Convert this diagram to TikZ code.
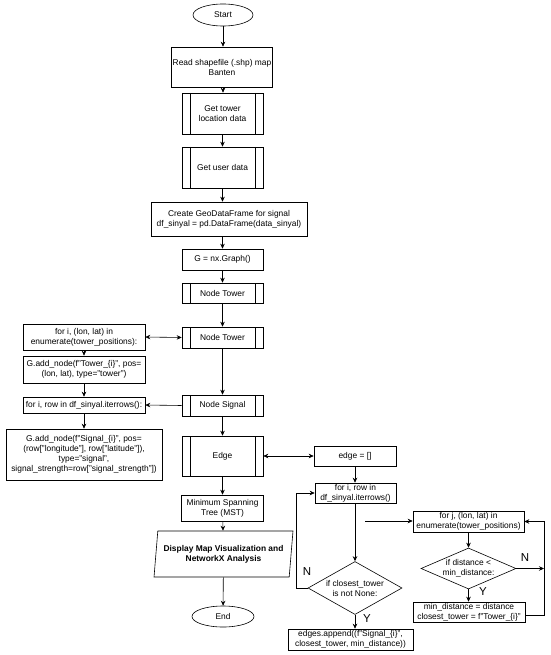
\documentclass[tikz,border=0pt]{standalone}
\usepackage{fontspec}
\setmainfont{Liberation Sans}
\usetikzlibrary{arrows.meta,shapes.geometric}
\tikzset{
  box/.style={draw, rectangle, align=center, font=\fontsize{8.4}{10}\selectfont, inner sep=1pt, fill=white, line width=0.6pt},
  sub/.style={box, path picture={
      \draw[line width=0.6pt] ([xshift=8pt]path picture bounding box.north west) -- ([xshift=8pt]path picture bounding box.south west)
        ([xshift=-8pt]path picture bounding box.north east) -- ([xshift=-8pt]path picture bounding box.south east);}},
  term/.style={draw, ellipse, font=\fontsize{8.4}{10}\selectfont, inner sep=0pt, line width=0.6pt},
  io/.style={draw, trapezium, trapezium left angle=79, trapezium right angle=101, trapezium stretches=true, align=center, font=\fontsize{8.4}{10}\selectfont\bfseries, inner sep=0pt, line width=0.6pt},
  dec/.style={draw, diamond, align=center, font=\fontsize{8.4}{10}\selectfont, inner sep=0pt, line width=0.6pt},
  arr/.style={-{Stealth[length=5pt,width=4.5pt]}, line width=0.6pt},
  darr/.style={{Stealth[length=5pt,width=4.5pt]}-{Stealth[length=5pt,width=4.5pt]}, line width=0.6pt},
  yn/.style={font=\fontsize{11.5}{12}\selectfont, inner sep=0pt},
}
\begin{document}
\begin{tikzpicture}[x=1pt,y=-1pt]
\useasboundingbox (0,0) rectangle (550,655);
\node[term, minimum width=60pt, minimum height=22pt] (start) at (223,15) {Start};
\node[box, minimum width=97pt, minimum height=40pt] (read) at (222,67) {Read shapefile (.shp) map\\Banten};
\node[sub, minimum width=81pt, minimum height=41pt] (tower) at (222.5,113.5) {Get tower\\location data};
\node[sub, minimum width=81pt, minimum height=41pt] (user) at (222.5,167.5) {Get user data};
\node[box, minimum width=156pt, minimum height=34pt] (geo) at (229,219) {Create GeoDataFrame for signal\\df\_sinyal = pd.DataFrame(data\_sinyal)};
\node[box, minimum width=81pt, minimum height=21pt] (graph) at (222.5,259.5) {G = nx.Graph()};
\node[sub, minimum width=81pt, minimum height=20pt] (nt1) at (222.5,293) {Node Tower};
\node[sub, minimum width=81pt, minimum height=21pt] (nt2) at (222.5,337.5) {Node Tower};
\node[sub, minimum width=81pt, minimum height=21pt] (nsig) at (222.5,405.5) {Node Signal};
\node[sub, minimum width=81pt, minimum height=40pt] (edge) at (222.5,456) {Edge};
\node[box, minimum width=82pt, minimum height=26pt] (mst) at (222.5,508) {Minimum Spanning\\Tree (MST)};
\node[io, minimum width=139pt, minimum height=46pt] (disp) at (223.5,554) {Display Map Visualization and\\NetworkX Analysis};
\node[term, minimum width=62pt, minimum height=21pt] (stop) at (223,616.5) {End};
\draw[arr] (start) -- (start.south |- read.north);
\draw[arr] (read.south -| start) -- (start |- tower.north);
\draw[arr] (tower) -- (user);
\draw[arr] (user.south) -- (user.south |- geo.north);
\draw[arr] (geo.south -| graph) -- (graph.north);
\draw[arr] (graph) -- (nt1);
\draw[arr] (nt1) -- (nt2);
\draw[arr] (nt2) -- (nsig);
\draw[arr] (nsig) -- (edge);
\draw[arr] (edge) -- (mst);
\draw[arr] (mst) -- (disp);
\draw[arr] (disp) -- (stop);
\node[box, minimum width=122pt, minimum height=26pt] (ftow) at (84,337) {for i, (lon, lat) in\\enumerate(tower\_positions):};
\node[box, minimum width=122pt, minimum height=27pt] (addt) at (84,369.5) {G.add\_node(f"Tower\_\{i\}", pos=\\(lon, lat), type="tower")};
\node[box, minimum width=122pt, minimum height=16pt] (fsig) at (84,405) {for i, row in df\_sinyal.iterrows():};
\node[box, minimum width=156pt, minimum height=51pt] (adds) at (84,454.5) {G.add\_node(f"Signal\_\{i\}", pos=\\(row["longitude"], row["latitude"]),\\type="signal",\\signal\_strength=row["signal\_strength"])};
\draw[darr] (ftow.east) -- (nt2.west);
\draw[arr] (ftow) -- (addt);
\draw[arr] (addt) -- (fsig);
\draw[arr] (nsig.west) -- (fsig.east);
\draw[arr] (fsig) -- (adds);
\node[box, minimum width=82pt, minimum height=20pt] (einit) at (355,456) {edge = []};
\node[box, minimum width=81pt, minimum height=20pt] (frow) at (355.5,493) {for i, row in\\df\_sinyal.iterrows()};
\node[dec, aspect=1.8, minimum width=94pt, minimum height=53pt] (dclose) at (355,588) {if closest\_tower\\is not None:};
\node[box, minimum width=125pt, minimum height=21pt] (app) at (350.5,639.5) {edges.append((f"Signal\_\{i\}",\\closest\_tower, min\_distance))};
\draw[darr] (edge.east) -- (einit.west);
\draw[arr] (einit) -- (einit |- frow.north);
\draw[arr] (frow.south -| dclose) -- (dclose.north);
\draw[arr] (dclose.west) -- ++(-11,0) |- (frow.west);
\draw[arr] (dclose.south) -- (dclose.south |- app.north);
\node[yn] (nclose) at (307,572) {N};
\node[yn] (yclose) at (367,619) {Y};
\node[box, minimum width=111pt, minimum height=21pt] (ftw) at (468.5,521.5) {for j, (lon, lat) in\\enumerate(tower\_positions)};
\node[dec, aspect=2.3, minimum width=95pt, minimum height=41pt] (ddist) at (468.5,568.5) {if distance <\\min\_distance:};
\node[box, minimum width=112pt, minimum height=20pt] (upd) at (469,612) {min\_distance = distance\\closest\_tower = f"Tower\_\{i\}"};
\coordinate (jstart) at (365,521);
\coordinate (rjoin) at (544,568.5);
\draw[arr] (jstart) -- (jstart -| ftw.west);
\draw[arr] (ftw.south -| ddist) -- (ddist.north);
\draw[arr] (ddist.south) -- (ddist.south |- upd.north);
\draw[arr] (ddist.east) -- (rjoin);
\draw[arr] ([yshift=-3pt]upd.east) -- ([yshift=-3pt]upd.east -| rjoin) |- (ftw.east);
\node[yn] (ndist) at (525,558) {N};
\node[yn] (ydist) at (483,592) {Y};
\end{tikzpicture}
\end{document}
